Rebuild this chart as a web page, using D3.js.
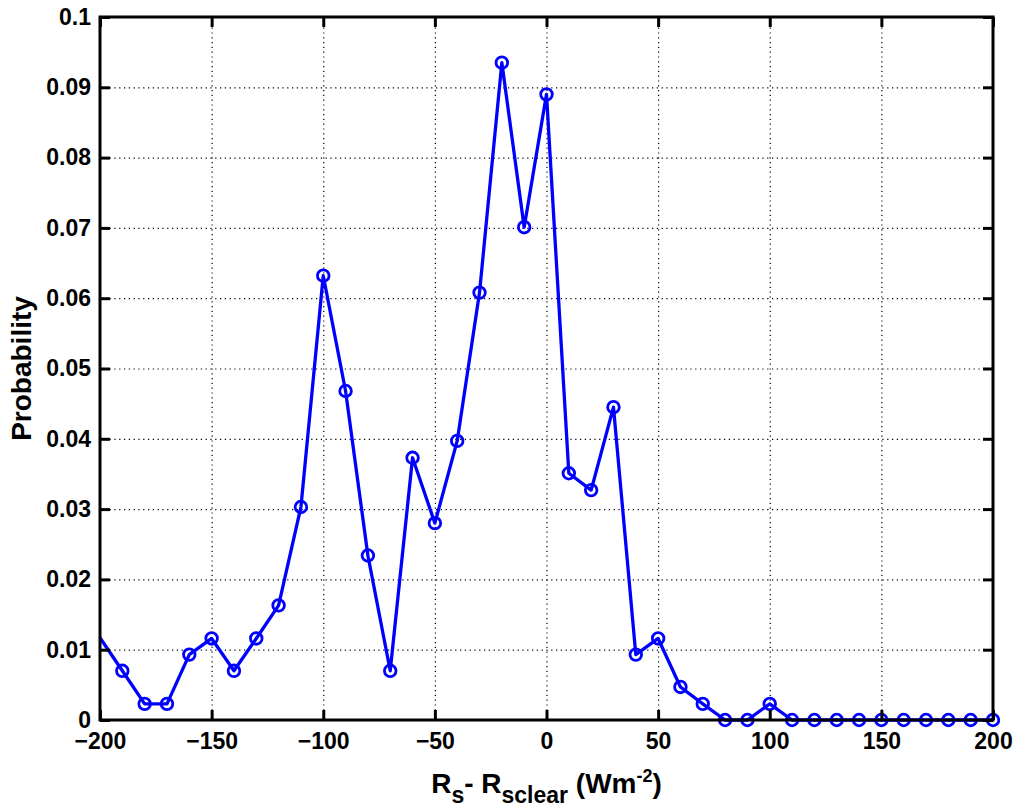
<!DOCTYPE html>
<html><head><meta charset="utf-8">
<script src="https://cdn.jsdelivr.net/npm/d3@7"></script>
<style>body{margin:0;background:#fff}svg{display:block}</style>
</head><body><svg id="c" width="1019" height="809"></svg>
<script>
const xValues = [-200,-190,-180,-170,-160,-150,-140,-130,-120,-110,-100,-90,-80,-70,-60,-50,-40,-30,-20,-10,0,10,20,30,40,50,60,70,80,90,100,110,120,130,140,150,160,170,180,190,200];
const probability = [0.0117,0.0070,0.0023,0.0023,0.0093,0.0116,0.0070,0.0116,0.0163,0.0303,0.0632,0.0468,0.0234,0.0070,0.0373,0.0280,0.0397,0.0608,0.0935,0.0701,0.0890,0.0351,0.0327,0.0445,0.0093,0.0116,0.0047,0.0023,0,0,0.0023,0,0,0,0,0,0,0,0,0,0];
const xTicks = [-200,-150,-100,-50,0,50,100,150,200];
const yTicks = [0,0.01,0.02,0.03,0.04,0.05,0.06,0.07,0.08,0.09,0.1];
const yTickLabels = ["0","0.01","0.02","0.03","0.04","0.05","0.06","0.07","0.08","0.09","0.1"];

const L = 100, R = 993, T = 17, B = 720;
const svg = d3.select("#c");
const font = "'Liberation Sans', Arial, sans-serif";
const x = d3.scaleLinear().domain([-200, 200]).range([L, R]);
const y = d3.scaleLinear().domain([0, 0.1]).range([B, T]);

// grid
const gx = svg.append("g").attr("transform", `translate(0,${B})`)
  .call(d3.axisBottom(x).tickValues(xTicks.slice(1, -1)).tickSize(-(B - T)).tickFormat(""));
const gy = svg.append("g").attr("transform", `translate(${L},0)`)
  .call(d3.axisLeft(y).tickValues(yTicks.slice(1, -1)).tickSize(-(R - L)).tickFormat(""));
[gx, gy].forEach(g => {
  g.select(".domain").remove();
  g.selectAll("line").attr("stroke", "#000").attr("stroke-width", 1.2).attr("stroke-dasharray", "1.2,3.6");
});

// data
const pts = xValues.map((v, i) => ({x: v, y: probability[i]}));
svg.append("path").datum(pts)
  .attr("fill", "none").attr("stroke", "#0000ff").attr("stroke-width", 3.3).attr("stroke-linejoin", "round")
  .attr("d", d3.line().x(d => x(d.x)).y(d => y(d.y)));
svg.append("g").selectAll("circle").data(pts.filter(d => d.x > x.domain()[0])).join("circle")
  .attr("cx", d => x(d.x)).attr("cy", d => y(d.y)).attr("r", 5.8)
  .attr("fill", "none").attr("stroke", "#0000ff").attr("stroke-width", 2.8);

// axes
const ax = svg.append("g").attr("transform", `translate(0,${B})`)
  .call(d3.axisBottom(x).tickValues(xTicks).tickSizeInner(-10).tickSizeOuter(0).tickPadding(13).tickFormat(d3.format("d")));
const ay = svg.append("g").attr("transform", `translate(${L},0)`)
  .call(d3.axisLeft(y).tickValues(yTicks).tickSizeInner(-10).tickSizeOuter(0).tickPadding(9).tickFormat((d, i) => yTickLabels[i]));
const at = svg.append("g").attr("transform", `translate(0,${T})`)
  .call(d3.axisTop(x).tickValues(xTicks).tickSizeInner(-10).tickSizeOuter(0).tickFormat(""));
const ar = svg.append("g").attr("transform", `translate(${R},0)`)
  .call(d3.axisRight(y).tickValues(yTicks).tickSizeInner(-10).tickSizeOuter(0).tickFormat(""));
[ax, ay, at, ar].forEach(g => {
  g.select(".domain").remove();
  g.selectAll("line").attr("stroke", "#000").attr("stroke-width", 3);
  g.selectAll("text").attr("fill", "#000").style("font-family", font).style("font-size", "23px").style("font-weight", "bold");
});
svg.append("rect").attr("x", L).attr("y", T).attr("width", R - L).attr("height", B - T)
  .attr("fill", "none").attr("stroke", "#000").attr("stroke-width", 3);

// labels
svg.append("text").attr("transform", `translate(31,${(T + B) / 2}) rotate(-90)`)
  .attr("text-anchor", "middle").style("font-family", font).style("font-size", "28px").style("font-weight", "bold")
  .text("Probability");

const xt = svg.append("text").attr("x", (L + R) / 2).attr("y", 793).attr("text-anchor", "middle")
  .style("font-family", font).style("font-size", "28px").style("font-weight", "bold");
xt.append("tspan").text("R");
xt.append("tspan").attr("dy", 10).style("font-size", "23px").text("s");
xt.append("tspan").attr("dy", -10).text("- R");
xt.append("tspan").attr("dy", 10).style("font-size", "23px").text("sclear");
xt.append("tspan").attr("dy", -10).text(" (Wm");
xt.append("tspan").attr("dy", -11).style("font-size", "18px").text("-2");
xt.append("tspan").attr("dy", 11).text(")");
</script>
</body></html>
